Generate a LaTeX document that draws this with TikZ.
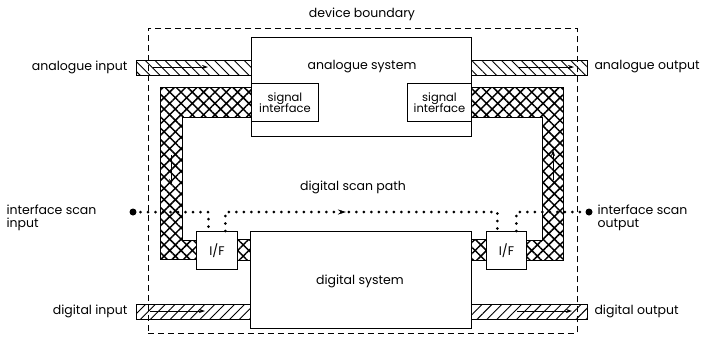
\documentclass[tikz,border=0pt]{standalone}
\usepackage{fontspec}
\setmainfont{Poppins}
\usetikzlibrary{arrows.meta,positioning,calc,patterns.meta,decorations.markings}
\tikzset{
  sysbox/.style={draw,line width=0.9pt,inner sep=0pt,anchor=north west},
  ifbox/.style={draw,fill=white,line width=0.9pt,inner sep=0pt,align=center,anchor=north west},
  abar/.style={draw,line width=0.9pt,pattern={Lines[angle=-45,distance=7pt,line width=0.9pt]}},
  dbar/.style={draw,line width=0.9pt,pattern={Lines[angle=45,distance=7pt,line width=0.9pt]}},
  xbar/.style={draw,line width=0.9pt,pattern={Hatch[angle=45,distance=8pt,line width=1.5pt]}},
  scan/.style={line width=3pt,dash pattern=on 0pt off 7.5pt,line cap=round},
  bnd/.style={line width=0.7pt,dash pattern=on 6pt off 4pt},
  flow/.style={-{Stealth[length=6pt,width=4pt]},line width=0.8pt},
}
\begin{document}
\begin{tikzpicture}[x=1pt,y=-1pt,font=\fontsize{12.5}{13}\selectfont]
\useasboundingbox (0,0) rectangle (706,341);
% boundary and the two systems
\node[bnd,draw,inner sep=0pt,anchor=north west,minimum width=429,minimum height=305] (bound) at (148,28) {};
\node (bndlab) at (362,14) {device boundary};
\node[sysbox,minimum width=220,minimum height=99] (asys) at (251,37) {};
\node[sysbox,minimum width=221,minimum height=97] (dsys) at (250,231) {};
% interface paths (cross hatched)
\draw[xbar] (160,87) -- (251,87) -- (251,117) -- (182,117) -- (182,240) -- (196,240) -- (196,259) -- (160,259) -- cycle;
\draw[xbar] (471,87) -- (563,87) -- (563,260) -- (526,260) -- (526,240) -- (542,240) -- (542,117) -- (471,117) -- cycle;
\draw[xbar] (237,239) rectangle (250,260); \draw[xbar] (471,239) rectangle (486,260);
\node[ifbox,minimum width=67,minimum height=38,font=\fontsize{11.5}{12}\selectfont] (sigl) at (251,83) {signal\\[-1pt]interface};
\node[ifbox,minimum width=64,minimum height=38,font=\fontsize{11.5}{12}\selectfont] (sigr) at (407,83) {signal\\[-1pt]interface};
\node[ifbox,minimum width=41,minimum height=38] (ifl) at (196,231) {I/F};
\node[ifbox,minimum width=40,minimum height=38] (ifr) at (486,231) {I/F};
\draw[flow] (171,155) -- (171,185); \draw[flow] (553,180) -- (553,150);
% signal bars
\draw[abar] (136,60) rectangle (251,75); \draw[abar] (471,60) rectangle (587,75);
\draw[dbar] (136,304) rectangle (250,319); \draw[dbar] (471,304) rectangle (587,319);
\foreach \xa/\yy in {153/67,519/67,150/311,517/311} \draw[flow] (\xa,\yy) -- ++(55,0);
\node (atext) at (362,67) {analogue system};
\node (dtext) at (360,281) {digital system};
\node[anchor=east] (ain) at (131,67) {analogue input};
\node[anchor=west] (aout) at (591,67) {analogue output};
\node[anchor=east] (din) at (131,311) {digital input};
\node[anchor=west] (dout) at (591,311) {digital output};
% scan path
\fill (133,212) circle (3.5pt) coordinate (sin); \fill (589,212) circle (3.5pt) coordinate (sout);
\coordinate (p1) at ([xshift=-8.5pt]ifl.north); \coordinate (p2) at ([xshift=8.5pt]ifl.north);
\coordinate (p3) at ([xshift=-9pt]ifr.north); \coordinate (p4) at ([xshift=10pt]ifr.north);
\draw[scan] (sin) -| (p1);
\draw[scan,postaction={decorate,decoration={markings,mark=at position 0.45 with {\arrow[line width=1pt]{Stealth[length=8pt,width=5pt]}}}}] (p2) -- ++(0,-19) -| (p3);
\draw[scan] (p4) -- ++(0,-19) -- (sout);
\node (scanlab) at (353,187) {digital scan path};
\node[anchor=west,align=left] (sinlab) at (3,218) {interface scan\\input};
\node[anchor=west,align=left] (soutlab) at (594,218) {interface scan\\output};
\end{tikzpicture}
\end{document}
